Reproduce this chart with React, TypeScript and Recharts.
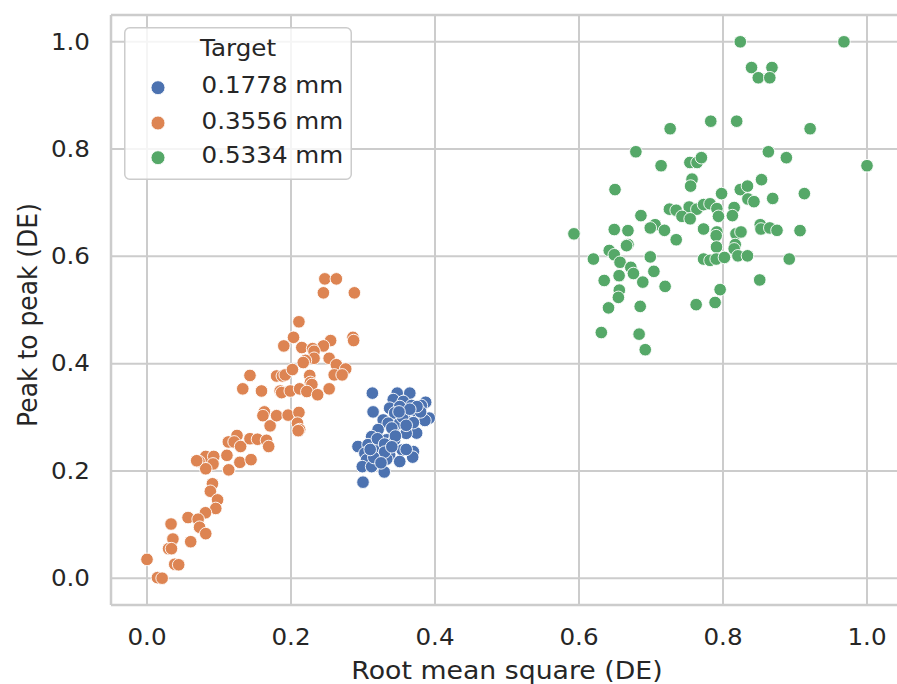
import {
  ScatterChart,
  Scatter,
  XAxis,
  YAxis,
  CartesianGrid,
  ReferenceLine,
  Legend,
  Label,
} from 'recharts'

// values
const X_TICKS = [0, 0.2, 0.4, 0.6, 0.8, 1.0]
const Y_TICKS = [0, 0.2, 0.4, 0.6, 0.8, 1.0]
const DOMAIN: [number, number] = [-0.05, 1.05]

const SERIES_NAMES = ['0.1778 mm', '0.3556 mm', '0.5334 mm']
const SERIES_COLORS = ['#4c72b0', '#dd8452', '#55a868']

const BLUE_POINTS = [
  [0.313, 0.345], [0.314, 0.31], [0.3475, 0.345], [0.365, 0.345], [0.342, 0.333],
  [0.356, 0.3295], [0.387, 0.328], [0.381, 0.322], [0.3675, 0.322], [0.337, 0.317],
  [0.351, 0.32], [0.3745, 0.311], [0.392, 0.2985], [0.386, 0.294], [0.344, 0.308],
  [0.358, 0.305], [0.328, 0.295], [0.335, 0.289], [0.351, 0.289], [0.365, 0.28],
  [0.3745, 0.2705], [0.342, 0.2735], [0.321, 0.277], [0.312, 0.264], [0.333, 0.258],
  [0.344, 0.258], [0.293, 0.2455], [0.307, 0.249], [0.322, 0.241], [0.3026, 0.233],
  [0.337, 0.23], [0.3545, 0.239], [0.37, 0.236], [0.305, 0.2207], [0.319, 0.2207],
  [0.333, 0.222], [0.351, 0.2175], [0.369, 0.2257], [0.299, 0.208], [0.312, 0.208],
  [0.3295, 0.198], [0.3, 0.179], [0.32, 0.26], [0.33, 0.25], [0.34, 0.28],
  [0.355, 0.3], [0.36, 0.27], [0.37, 0.29], [0.38, 0.31], [0.375, 0.32],
  [0.345, 0.265], [0.33, 0.235], [0.315, 0.225], [0.36, 0.24], [0.365, 0.315],
  [0.35, 0.31], [0.325, 0.215], [0.34, 0.245], [0.31, 0.24], [0.36, 0.285],
].map(([x, y]) => ({ x, y }))

const ORANGE_POINTS = [
  [0.247, 0.558], [0.263, 0.558], [0.245, 0.532], [0.288, 0.532], [0.211, 0.478],
  [0.2035, 0.449], [0.19, 0.433], [0.286, 0.449], [0.287, 0.443], [0.255, 0.443],
  [0.245, 0.433], [0.215, 0.43], [0.23, 0.428], [0.232, 0.423], [0.232, 0.41],
  [0.22, 0.406], [0.217, 0.402], [0.253, 0.41], [0.263, 0.398], [0.276, 0.39],
  [0.26, 0.379], [0.271, 0.379], [0.143, 0.378], [0.18, 0.377], [0.188, 0.377],
  [0.192, 0.379], [0.202, 0.389], [0.226, 0.378], [0.227, 0.365], [0.229, 0.361],
  [0.133, 0.353], [0.159, 0.349], [0.185, 0.349], [0.187, 0.346], [0.199, 0.349],
  [0.212, 0.353], [0.222, 0.348], [0.237, 0.342], [0.253, 0.353], [0.163, 0.31],
  [0.161, 0.303], [0.171, 0.284], [0.18, 0.303], [0.196, 0.304], [0.211, 0.309],
  [0.209, 0.289], [0.212, 0.277], [0.21, 0.275], [0.125, 0.266], [0.113, 0.254],
  [0.121, 0.254], [0.13, 0.2455], [0.143, 0.26], [0.1535, 0.259], [0.166, 0.257],
  [0.169, 0.2455], [0.111, 0.229], [0.129, 0.216], [0.1445, 0.221], [0.1135, 0.202],
  [0.0816, 0.227], [0.0927, 0.227], [0.0723, 0.2175], [0.0917, 0.213], [0.0816, 0.204],
  [0.069, 0.219], [0.0909, 0.176], [0.088, 0.162], [0.098, 0.146], [0.0955, 0.13],
  [0.0812, 0.122], [0.057, 0.113], [0.071, 0.11], [0.073, 0.095], [0.0816, 0.083],
  [0.0334, 0.101], [0.036, 0.073], [0.03, 0.055], [0.034, 0.055], [0.0607, 0.068],
  [0.0385, 0.026], [0.044, 0.025], [0, 0.035], [0.0145, 0.001], [0.021, 0],
].map(([x, y]) => ({ x, y }))

const GREEN_POINTS = [
  [0.824, 1.0], [0.968, 1.0], [0.8396, 0.952], [0.868, 0.952], [0.849, 0.933],
  [0.865, 0.933], [0.783, 0.852], [0.819, 0.852], [0.7266, 0.838], [0.921, 0.838],
  [0.679, 0.795], [0.863, 0.795], [0.714, 0.769], [0.754, 0.775], [0.764, 0.775],
  [0.77, 0.784], [0.888, 0.784], [1.0, 0.769], [0.757, 0.744], [0.755, 0.731],
  [0.8535, 0.743], [0.65, 0.7245], [0.824, 0.7245], [0.834, 0.731], [0.8346, 0.707],
  [0.843, 0.702], [0.798, 0.717], [0.869, 0.708], [0.913, 0.717], [0.7256, 0.688],
  [0.735, 0.686], [0.753, 0.692], [0.7637, 0.688], [0.773, 0.6965], [0.782, 0.698],
  [0.7915, 0.689], [0.8155, 0.691], [0.743, 0.6746], [0.7544, 0.67], [0.7937, 0.6746],
  [0.813, 0.676], [0.686, 0.676], [0.7057, 0.659], [0.699, 0.653], [0.7187, 0.6485],
  [0.649, 0.65], [0.668, 0.648], [0.773, 0.651], [0.7915, 0.6455], [0.7905, 0.6386],
  [0.818, 0.642], [0.825, 0.6455], [0.8517, 0.659], [0.8527, 0.651], [0.865, 0.653],
  [0.875, 0.6485], [0.907, 0.648], [0.735, 0.631], [0.668, 0.622], [0.666, 0.62],
  [0.817, 0.622], [0.8155, 0.614], [0.791, 0.6175], [0.642, 0.611], [0.649, 0.603],
  [0.62, 0.595], [0.699, 0.599], [0.657, 0.589], [0.773, 0.595], [0.782, 0.5925],
  [0.7905, 0.595], [0.802, 0.598], [0.8207, 0.601], [0.834, 0.601], [0.892, 0.595],
  [0.672, 0.5795], [0.6756, 0.568], [0.704, 0.572], [0.635, 0.555], [0.6557, 0.564],
  [0.6886, 0.552], [0.7196, 0.544], [0.851, 0.556], [0.656, 0.537], [0.6547, 0.5235],
  [0.796, 0.538], [0.641, 0.504], [0.685, 0.5067], [0.7627, 0.51], [0.789, 0.514],
  [0.631, 0.458], [0.6835, 0.455], [0.692, 0.426], [0.593, 0.642],
].map(([x, y]) => ({ x, y }))

const SERIES_DATA = [BLUE_POINTS, ORANGE_POINTS, GREEN_POINTS]

const FONT = '"DejaVu Sans", sans-serif'
const INK = '#262626'
const GRID = '#cccccc'
const STRETCH = 1.07 // the reference glyphs are a little wider than tall

function XTick({ x, y, payload }: any) {
  return (
    <text
      transform={`translate(${x},${y}) scale(${STRETCH},1)`}
      textAnchor="middle"
      dominantBaseline="central"
      fontSize={23}
      fontFamily={FONT}
      fill={INK}
    >
      {Number(payload.value).toFixed(1)}
    </text>
  )
}

function YTick({ x, y, payload }: any) {
  return (
    <text
      transform={`translate(${x},${y}) scale(${STRETCH},1)`}
      textAnchor="end"
      dominantBaseline="central"
      fontSize={23}
      fontFamily={FONT}
      fill={INK}
    >
      {Number(payload.value).toFixed(1)}
    </text>
  )
}

function XTitle({ viewBox }: any) {
  const cx = viewBox.x + viewBox.width / 2
  const cy = viewBox.y + 65
  return (
    <text
      transform={`translate(${cx},${cy}) scale(${STRETCH},1)`}
      textAnchor="middle"
      dominantBaseline="central"
      fontSize={25}
      fontFamily={FONT}
      fill={INK}
    >
      Root mean square (DE)
    </text>
  )
}

function YTitle({ viewBox }: any) {
  const cx = viewBox.x + 28
  const cy = viewBox.y + viewBox.height / 2 + 5
  return (
    <text
      transform={`translate(${cx},${cy}) rotate(-90) scale(1,${STRETCH})`}
      textAnchor="middle"
      dominantBaseline="central"
      fontSize={25}
      fontFamily={FONT}
      fill={INK}
    >
      Peak to peak (DE)
    </text>
  )
}

function LegendBox({ payload }: any) {
  const items = payload && payload.length ? payload : SERIES_NAMES.map((n, i) => ({ value: n, color: SERIES_COLORS[i] }))
  const rowY = [60.7, 96, 130.7]
  return (
    <svg width={228} height={153} style={{ display: 'block' }}>
      <rect x={0.75} y={0.75} width={226.5} height={151.5} rx={5} fill="#ffffff" fillOpacity={0.8} stroke={GRID} strokeWidth={1.5} />
      <text
        transform={`translate(114,21) scale(${STRETCH},1)`}
        textAnchor="middle"
        dominantBaseline="central"
        fontSize={23}
        fontFamily={FONT}
        fill={INK}
      >
        Target
      </text>
      {items.map((item: any, i: number) => (
        <g key={item.value}>
          <circle cx={34} cy={rowY[i]} r={7} fill={item.color} stroke="#fff" strokeWidth={0.9} />
          <text
            transform={`translate(77.5,${rowY[i] - 2}) scale(${STRETCH},1)`}
            dominantBaseline="central"
            fontSize={23}
            fontFamily={FONT}
            fill={INK}
          >
            {item.value}
          </text>
        </g>
      ))}
    </svg>
  )
}

const makeDot = (color: string) => (props: any) => (
  <circle cx={props.cx} cy={props.cy} r={6.3} fill={color} stroke="#ffffff" strokeWidth={0.9} />
)

export default function App() {
  return (
    <div
      style={{
        position: 'fixed',
        left: 0,
        top: 0,
        width: 897,
        height: 684,
        overflow: 'hidden',
        background: '#ffffff',
      }}
    >
      <ScatterChart width={910} height={684} margin={{ top: 15, right: 7, bottom: 0, left: 0 }}>
        <CartesianGrid stroke={GRID} strokeWidth={2} />
        <XAxis
          type="number"
          dataKey="x"
          domain={DOMAIN}
          ticks={X_TICKS}
          allowDataOverflow
          height={79}
          tickSize={0}
          tickMargin={32}
          tickLine={false}
          axisLine={{ stroke: GRID, strokeWidth: 2.5 }}
          tick={<XTick />}
        >
          <Label content={<XTitle />} />
        </XAxis>
        <YAxis
          type="number"
          dataKey="y"
          domain={DOMAIN}
          ticks={Y_TICKS}
          allowDataOverflow
          width={111}
          tickSize={0}
          tickMargin={21}
          tickLine={false}
          axisLine={{ stroke: GRID, strokeWidth: 2.5 }}
          tick={<YTick />}
        >
          <Label content={<YTitle />} />
        </YAxis>
        <ReferenceLine y={DOMAIN[1]} stroke={GRID} strokeWidth={2.5} ifOverflow="visible" />
        <ReferenceLine x={DOMAIN[1]} stroke={GRID} strokeWidth={2.5} ifOverflow="visible" />
        {SERIES_DATA.map((pts, i) => (
          <Scatter
            key={SERIES_NAMES[i]}
            name={SERIES_NAMES[i]}
            data={pts}
            fill={SERIES_COLORS[i]}
            shape={makeDot(SERIES_COLORS[i])}
            isAnimationActive={false}
          />
        ))}
        <Legend
          layout="vertical"
          align="center"
          verticalAlign="middle"
          wrapperStyle={{ left: 124, top: 27, width: 228, height: 153 }}
          content={<LegendBox />}
        />
      </ScatterChart>
    </div>
  )
}
